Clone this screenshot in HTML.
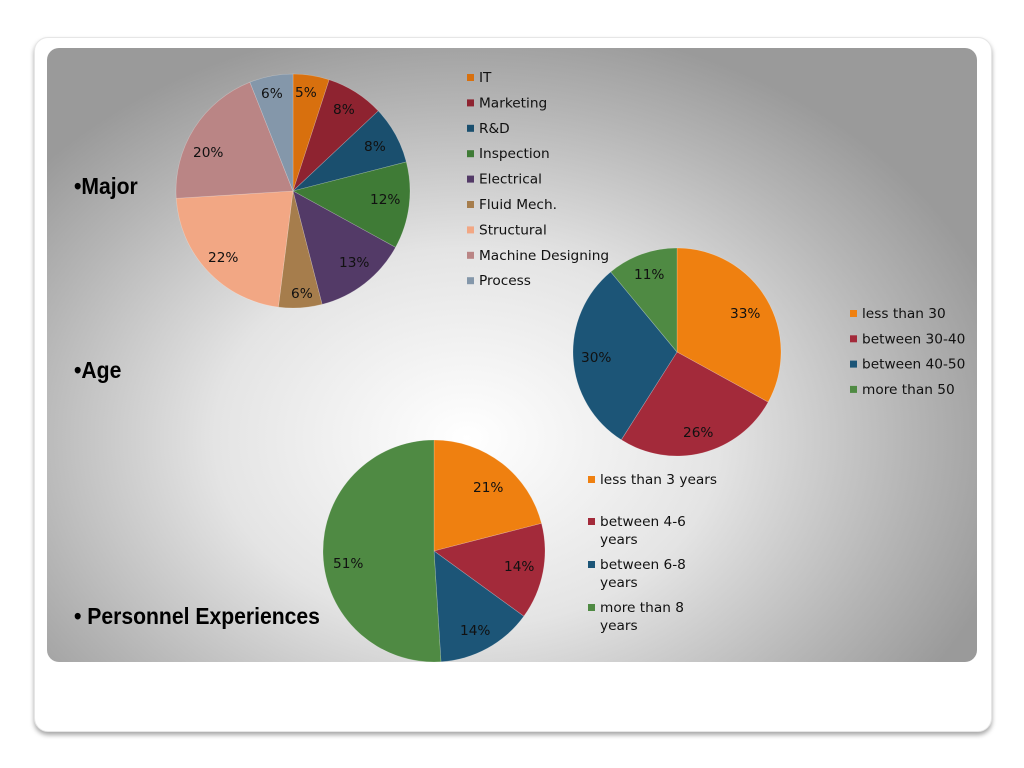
<!DOCTYPE html>
<html><head><meta charset="utf-8"><style>
html,body{margin:0;padding:0;width:1024px;height:768px;background:#fff;overflow:hidden}
.card{position:absolute;left:34px;top:37px;width:956px;height:693px;border-radius:14px;background:#fff;box-shadow:0 3px 5px rgba(0,0,0,0.35);border:1px solid #e6e6e6}
.panel{position:absolute;left:47px;top:48px;width:930px;height:614px;border-radius:12px;background:radial-gradient(ellipse 560px 420px at 420px 390px,#ffffff 0%,#e4e4e4 45%,#b4b4b4 80%,#9a9a9a 100%)}
svg{position:absolute;left:0;top:0}
text{font-family:"DejaVu Sans","Liberation Sans",sans-serif;font-size:13.7px;fill:#111}
.h{font-family:"Liberation Sans",sans-serif;font-weight:bold;font-size:23px;fill:#000}
</style></head><body>
<div class="card"></div><div class="panel"></div>
<svg width="1024" height="768" id="s">
<g id="pies"></g>
<text class="h" x="74" y="194" transform="translate(74,0) scale(0.92,1) translate(-74,0)">•Major</text>
<text class="h" x="74" y="378" transform="translate(74,0) scale(0.92,1) translate(-74,0)">•Age</text>
<text class="h" x="74" y="624" transform="translate(74,0) scale(0.92,1) translate(-74,0)">• Personnel Experiences</text>
<g id="lab"></g>
</svg>
<script>
var NS="http://www.w3.org/2000/svg";
function pie(cx,cy,r,vals,cols){
 var g=document.getElementById('pies'),a=0,tot=0;vals.forEach(function(v){tot+=v});
 vals.forEach(function(v,i){
  var a0=a/tot*2*Math.PI,a1=(a+v)/tot*2*Math.PI;a+=v;
  var x0=cx+r*Math.sin(a0),y0=cy-r*Math.cos(a0),x1=cx+r*Math.sin(a1),y1=cy-r*Math.cos(a1);
  var p=document.createElementNS(NS,'path');
  p.setAttribute('d','M'+cx+','+cy+'L'+x0+','+y0+'A'+r+','+r+' 0 '+((a1-a0)>Math.PI?1:0)+' 1 '+x1+','+y1+'Z');
  p.setAttribute('fill',cols[i]);p.setAttribute('stroke','rgba(255,255,255,0.3)');p.setAttribute('stroke-width','0.6');
  g.appendChild(p);
 });
}
function t(x,y,s){var e=document.createElementNS(NS,'text');e.setAttribute('x',x);e.setAttribute('y',y);e.textContent=s;document.getElementById('lab').appendChild(e);}
function sq(x,y,c){var e=document.createElementNS(NS,'rect');e.setAttribute('x',x);e.setAttribute('y',y);e.setAttribute('width',7);e.setAttribute('height',7);e.setAttribute('fill',c);document.getElementById('lab').appendChild(e);}
var C9=['#d8700e','#8e2330','#1a4f6e','#3f7b36','#533a67','#a67d4c','#f2a784','#ba8585','#8497aa'];
pie(293,191,117,[5,8,8,12,13,6,22,20,6],C9);
var C4=['#ef8010','#a32a3a','#1c5577','#4f8a43'];
pie(677,352,104,[33,26,30,11],C4);
pie(434,551,111,[21,14,14,51],C4);
[[295,97,'5%'],[333,114,'8%'],[364,151,'8%'],[370,204,'12%'],[339,267,'13%'],[291,298,'6%'],[208,262,'22%'],[193,157,'20%'],[261,98,'6%'],
 [634,279,'11%'],[730,318,'33%'],[683,437,'26%'],[581,362,'30%'],
 [473,492,'21%'],[504,571,'14%'],[460,635,'14%'],[333,568,'51%']].forEach(function(a){t(a[0],a[1],a[2])});
var L9=['IT','Marketing','R&D','Inspection','Electrical','Fluid Mech.','Structural','Machine Designing','Process'];
L9.forEach(function(s,i){var y=77+i*25.4;sq(467,y-3,C9[i]);t(479,y+5,s)});
['less than 30','between 30-40','between 40-50','more than 50'].forEach(function(s,i){var y=313+i*25.3;sq(850,y-3,C4[i]);t(862,y+5,s)});
[[479,['less than 3 years']],[521,['between 4-6','years']],[564,['between 6-8','years']],[607,['more than 8','years']]].forEach(function(a,i){sq(588,a[0]-3,C4[i]);a[1].forEach(function(s,j){t(600,a[0]+5+j*18,s)})});
</script>
</body></html>
